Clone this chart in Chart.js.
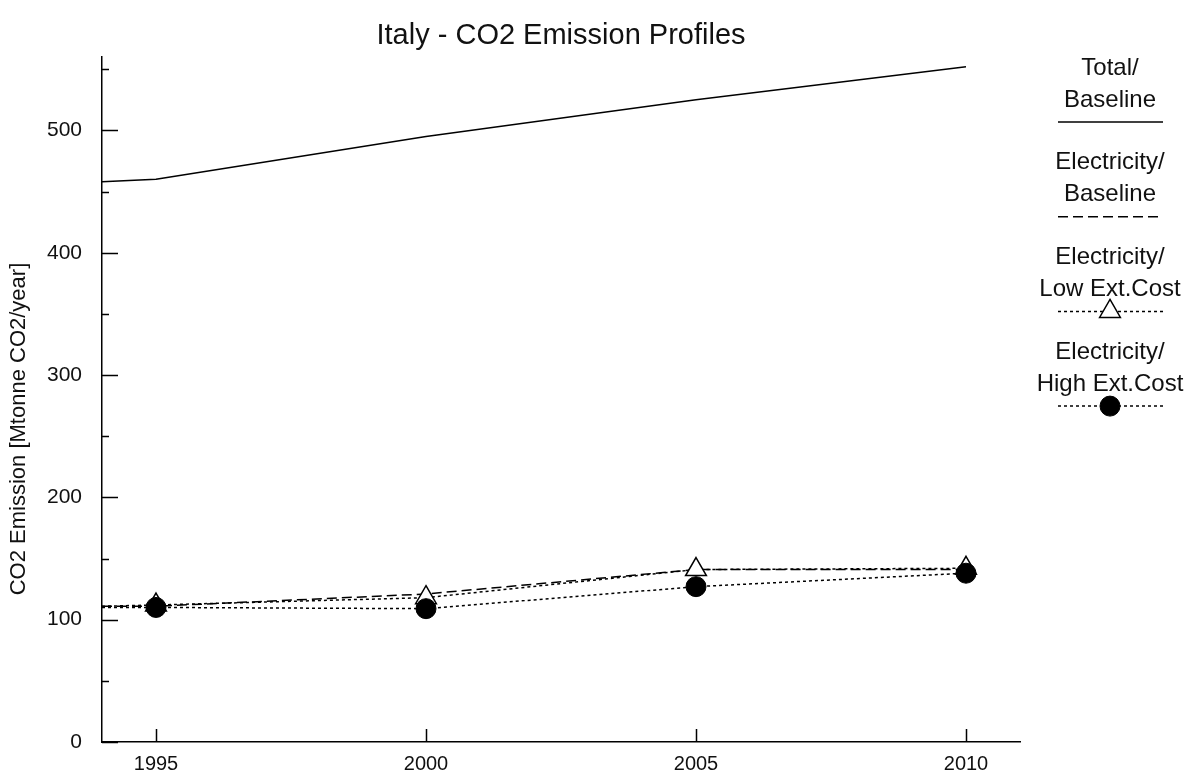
<!DOCTYPE html>
<html>
<head>
<meta charset="utf-8">
<title>Italy - CO2 Emission Profiles</title>
<script src="https://cdn.jsdelivr.net/npm/chart.js@4/dist/chart.umd.min.js"></script>
<style>
  html, body { margin: 0; padding: 0; background: #ffffff; }
  #wrap { width: 1188px; height: 778px; position: relative; }
</style>
</head>
<body>
<div id="wrap"><canvas id="chart"></canvas></div>
<script>
// Years of the profile and emissions in Mtonne CO2/year
const years = [1994, 1995, 2000, 2005, 2010];
const totalBaseline = [458, 460, 495, 525, 552];
const elecBaseline = [111, 111, 121, 141, 141];
const elecLowExtCost = [111, 112, 118, 141, 142];
const elecHighExtCost = [110, 110, 109, 127, 138];

// Axis ticks
const xTickYears = [1995, 2000, 2005, 2010];
const yMajorTicks = [0, 100, 200, 300, 400, 500];
const yMinorTicks = [50, 150, 250, 350, 450, 550];
const markerYears = [1995, 2000, 2005, 2010];

// Axis title and series names (two lines each, as stacked in the key)
const yAxisTitle = 'CO2 Emission [Mtonne CO2/year]';
const seriesNames = [
  ['Total/', 'Baseline'],
  ['Electricity/', 'Baseline'],
  ['Electricity/', 'Low Ext.Cost'],
  ['Electricity/', 'High Ext.Cost']
];

const FONT = "'Liberation Sans', Arial, Helvetica, sans-serif";
const INK = '#111111';

function toPoints(values) {
  return years.map((x, i) => ({ x: x, y: values[i] }));
}
function markerRadius(r) {
  return (c) => (c.raw && markerYears.includes(c.raw.x)) ? r : 0;
}

// Inward tick marks on both axes (major and minor on the value axis)
const innerTicks = {
  id: 'innerTicks',
  afterDraw(chart) {
    const { ctx, chartArea, scales } = chart;
    const xs = scales.x, ys = scales.y;
    ctx.save();
    ctx.strokeStyle = '#000';
    ctx.lineWidth = 1.5;
    ctx.beginPath();
    yMajorTicks.forEach(v => {
      const py = Math.round(ys.getPixelForValue(v)) + 0.5;
      ctx.moveTo(chartArea.left, py);
      ctx.lineTo(chartArea.left + 16, py);
    });
    yMinorTicks.forEach(v => {
      const py = Math.round(ys.getPixelForValue(v)) + 0.5;
      ctx.moveTo(chartArea.left, py);
      ctx.lineTo(chartArea.left + 7, py);
    });
    xTickYears.forEach(v => {
      const px = Math.round(xs.getPixelForValue(v)) + 0.5;
      ctx.moveTo(px, chartArea.bottom);
      ctx.lineTo(px, chartArea.bottom - 13);
    });
    ctx.stroke();

    // rotated value-axis title
    ctx.translate(19, 429);
    ctx.rotate(-Math.PI / 2);
    ctx.font = '22px ' + FONT;
    ctx.fillStyle = INK;
    ctx.textAlign = 'center';
    ctx.textBaseline = 'middle';
    ctx.fillText(yAxisTitle, 0, 0);
    ctx.restore();
  }
};

// Stacked key on the right: two text lines above a sample of each line style
const stackedKey = {
  id: 'stackedKey',
  afterDraw(chart) {
    const ctx = chart.ctx;
    const cx = 1110, x0 = 1058, x1 = 1163;
    ctx.save();
    ctx.font = '24px ' + FONT;
    ctx.textAlign = 'center';
    ctx.textBaseline = 'middle';
    chart.data.datasets.forEach((ds, k) => {
      const sy = 122 + 94.7 * k;
      const lines = seriesNames[k];
      ctx.fillStyle = INK;
      ctx.fillText(lines[0], cx, sy - 54);
      ctx.fillText(lines[1], cx, sy - 22);
      ctx.save();
      ctx.strokeStyle = ds.borderColor;
      ctx.lineWidth = ds.borderWidth;
      ctx.setLineDash(ds.borderDash || []);
      ctx.beginPath();
      ctx.moveTo(x0, sy);
      ctx.lineTo(x1, sy);
      ctx.stroke();
      ctx.restore();
      if (ds.keyMarker) {
        ctx.save();
        ctx.setLineDash([]);
        ctx.fillStyle = ds.pointBackgroundColor;
        ctx.strokeStyle = ds.pointBorderColor;
        ctx.lineWidth = ds.pointBorderWidth;
        Chart.helpers.drawPoint(ctx, {
          pointStyle: ds.pointStyle,
          radius: ds.keyMarker,
          rotation: 0,
          borderWidth: ds.pointBorderWidth
        }, cx, sy);
        ctx.restore();
      }
    });
    ctx.restore();
  }
};

new Chart(document.getElementById('chart'), {
  type: 'line',
  data: {
    datasets: [
      {
        label: 'Total/Baseline',
        data: toPoints(totalBaseline),
        borderColor: '#000',
        borderWidth: 1.5,
        pointRadius: 0,
        tension: 0,
        order: 3
      },
      {
        label: 'Electricity/Baseline',
        data: toPoints(elecBaseline),
        borderColor: '#000',
        borderWidth: 1.5,
        borderDash: [10, 5],
        pointRadius: 0,
        tension: 0,
        order: 2
      },
      {
        label: 'Electricity/Low Ext.Cost',
        data: toPoints(elecLowExtCost),
        borderColor: '#000',
        borderWidth: 1.5,
        borderDash: [3, 3],
        pointStyle: 'triangle',
        pointRadius: markerRadius(12),
        pointBackgroundColor: '#ffffff',
        pointBorderColor: '#000',
        pointBorderWidth: 1.5,
        keyMarker: 12,
        tension: 0,
        order: 1
      },
      {
        label: 'Electricity/High Ext.Cost',
        data: toPoints(elecHighExtCost),
        borderColor: '#000',
        borderWidth: 1.5,
        borderDash: [3, 3],
        pointStyle: 'circle',
        pointRadius: markerRadius(10),
        pointBackgroundColor: '#000',
        pointBorderColor: '#000',
        pointBorderWidth: 1,
        keyMarker: 10,
        tension: 0,
        order: 0
      }
    ]
  },
  options: {
    responsive: true,
    maintainAspectRatio: false,
    animation: false,
    layout: { padding: { left: 0, right: 168, top: 0, bottom: 0 } },
    plugins: {
      legend: { display: false },
      tooltip: { enabled: false },
      title: {
        display: true,
        text: 'Italy - CO2 Emission Profiles',
        fullSize: false,
        color: INK,
        font: { family: FONT, size: 29, weight: 'normal', lineHeight: 1.2 },
        padding: { top: 18.6, bottom: 3.6 }
      }
    },
    scales: {
      x: {
        type: 'linear',
        min: 1994,
        max: 2011,
        afterBuildTicks: (s) => { s.ticks = xTickYears.map(v => ({ value: v })); },
        afterFit: (s) => { s.height = 36; },
        grid: { display: false },
        border: { display: true, color: '#000', width: 1.5 },
        ticks: {
          color: INK,
          font: { family: FONT, size: 20 },
          padding: 2,
          maxRotation: 0,
          callback: (v) => String(v)
        }
      },
      y: {
        type: 'linear',
        min: 0,
        max: 560,
        afterBuildTicks: (s) => { s.ticks = yMajorTicks.map(v => ({ value: v })); },
        afterFit: (s) => { s.width = 102; },
        grid: { display: false },
        border: { display: true, color: '#000', width: 1.5 },
        ticks: {
          color: INK,
          font: { family: FONT, size: 21 },
          padding: 12,
          callback: (v) => String(v)
        }
      }
    }
  },
  plugins: [innerTicks, stackedKey]
});
</script>
</body>
</html>
